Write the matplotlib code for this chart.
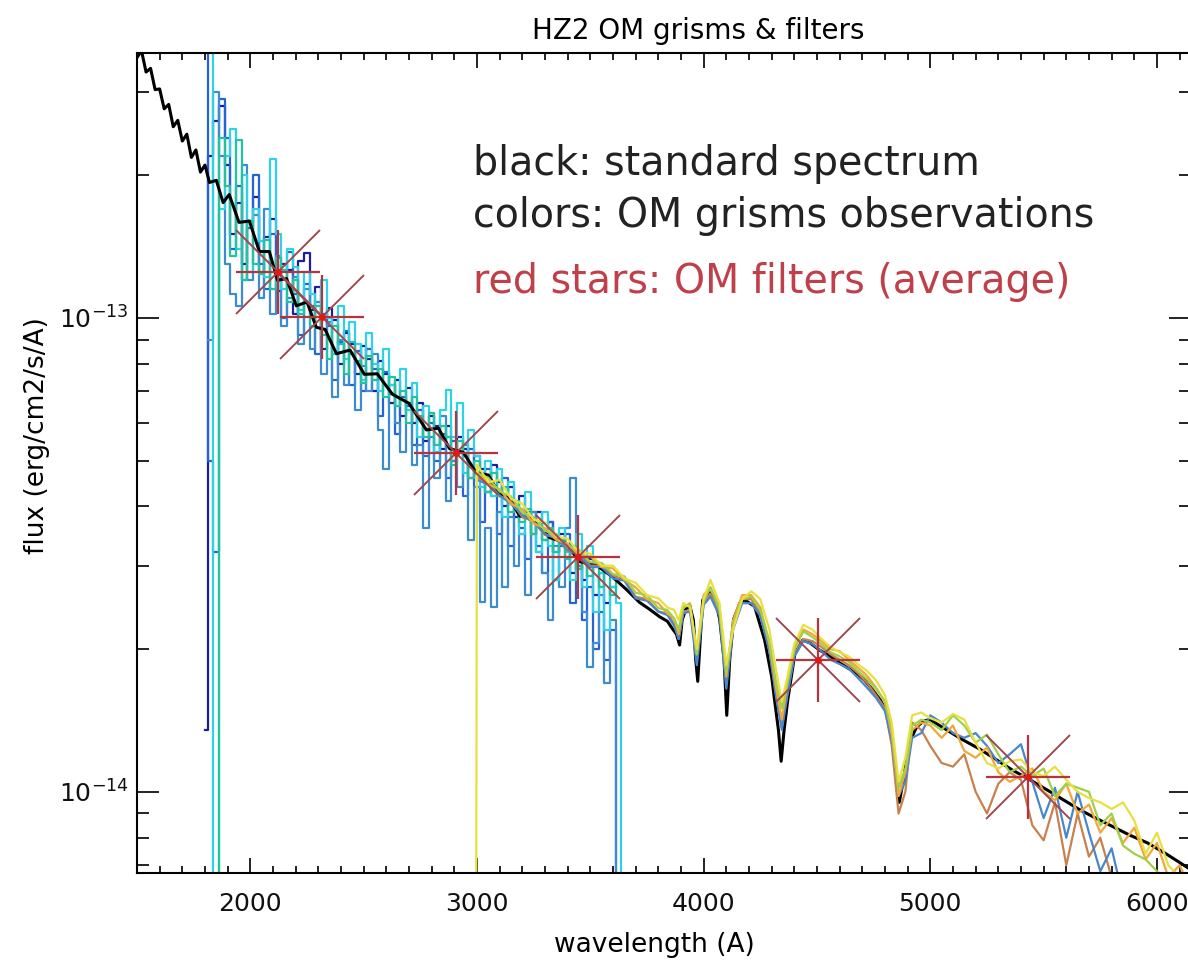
import numpy as np
import matplotlib.pyplot as plt
from matplotlib.ticker import LogLocator, MultipleLocator, NullFormatter

nan = np.nan
# all fluxes below are in units of 1e-14 erg/cm2/s/A
UNIT = 1e-14

# standard spectrum (black)
std_wave = [1500, 1520, 1540, 1560, 1580, 1600, 1620, 1640, 1660, 1680,
            1700, 1720, 1740, 1760, 1780, 1800, 1820, 1850, 1880, 1907,
            1950, 1996, 2040, 2084, 2120, 2160, 2203, 2250, 2291, 2330,
            2380, 2440, 2503, 2560, 2627, 2700, 2777, 2830, 2879, 2940,
            2998, 3050, 3099, 3140, 3188, 3250, 3320, 3390, 3453, 3530,
            3598, 3660, 3717, 3760, 3806, 3840, 3859, 3880, 3894, 3905,
            3920, 3938, 3955, 3965, 3974, 3985, 3996, 4027, 4055, 4071,
            4090, 4102, 4115, 4132, 4160, 4181, 4225, 4269, 4300, 4313,
            4330, 4342, 4355, 4371, 4402, 4437, 4470, 4512, 4560, 4600,
            4640, 4675, 4710, 4746, 4780, 4808, 4830, 4843, 4855, 4863,
            4875, 4887, 4910, 4940, 4970, 4998, 5030, 5073, 5140, 5219,
            5290, 5364, 5440, 5514, 5590, 5660, 5730, 5806, 5880, 5956,
            6040, 6137]
std_flux = [35.4, 36.6, 33.0, 33.6, 30.3, 30.4, 27.6, 28.2, 25.3, 26.1,
            23.6, 24.4, 21.8, 22.6, 20.3, 21.0, 19.3, 19.5, 17.5, 18.2,
            15.9, 16.0, 13.8, 13.8, 12.0, 12.1, 10.6, 10.8, 9.55, 9.45,
            8.4, 8.55, 7.6, 7.62, 6.9, 6.6, 5.8, 5.85, 5.3, 5.2,
            4.7, 4.66, 4.25, 4.2, 3.82, 3.76, 3.44, 3.35, 3.06, 3.0,
            2.84, 2.67, 2.51, 2.43, 2.34, 2.29, 2.22, 2.15, 2.04, 2.30,
            2.42, 2.48, 2.30, 1.90, 1.71, 2.10, 2.54, 2.63, 2.50, 2.31,
            1.90, 1.45, 1.90, 2.31, 2.50, 2.54, 2.46, 2.09, 1.75, 1.56,
            1.35, 1.16, 1.35, 1.56, 1.95, 2.09, 2.06, 1.99, 1.93, 1.87,
            1.82, 1.78, 1.72, 1.64, 1.56, 1.47, 1.32, 1.17, 1.00, 0.95,
            1.02, 1.10, 1.28, 1.37, 1.41, 1.42, 1.39, 1.35, 1.29, 1.23,
            1.17, 1.11, 1.06, 1.01, 0.96, 0.916, 0.88, 0.844, 0.81, 0.781,
            0.74, 0.691]

# UV grism observations
uv_wave = [1800, 1825, 1850, 1875, 1900, 1925, 1950, 1975, 2000, 2025,
           2050, 2075, 2100, 2125, 2150, 2175, 2200, 2225, 2250, 2275,
           2300, 2325, 2350, 2375, 2400, 2425, 2450, 2475, 2500, 2525,
           2550, 2575, 2600, 2625, 2650, 2675, 2700, 2725, 2750, 2775,
           2800, 2825, 2850, 2875, 2900, 2925, 2950, 2975, 3000, 3025,
           3050, 3075, 3100, 3125, 3150, 3175, 3200, 3225, 3250, 3275,
           3300, 3325, 3350, 3375, 3400, 3425, 3450, 3475, 3500, 3525,
           3550, 3575, 3600, 3625, 3650]
uv_navy = [1.35, 22, 26, 28, 21, 15, 17.5, 13, 16, 18,
           12.5, 14.8, 16.2, 11.4, 13.0, 12.6, 10.2, 13.2, 13.7, 10.4,
           11.6, 8.6, 10.5, 9.9, 8.0, 9.3, 8.8, 7.6, 8.7, 8.2,
           7.0, 8.1, 7.6, 6.6, 7.4, 6.2, 7.1, 6.0, 6.6, 5.5,
           6.2, 5.9, 5.3, 5.9, 5.0, 5.6, 5.3, 4.6, 5.1, 4.8,
           4.3, 4.9, 4.5, 4.0, 4.4, 3.8, 4.2, 3.9, 3.5, 3.9,
           3.4, 3.7, 3.2, 3.5, 3.3, 2.9, 3.2, 2.8, 3.1, 2.6,
           2.9, 2.5, 2.7, nan, nan]
uv_blue = [40, 5.0, 3.2, 29, 24, 14, 19, 12, 15.5, 20,
           13, 11.5, 15, 12.5, 10, 13.8, 11.2, 9.2, 11.8, 10.6,
           8.4, 10.2, 9.6, 7.4, 8.9, 9.4, 7.2, 8.5, 7.0, 8.6,
           7.8, 6.2, 7.7, 6.9, 5.7, 6.8, 6.5, 5.4, 6.4, 5.1,
           6.0, 5.0, 5.7, 4.6, 5.5, 5.2, 4.2, 5.3, 4.4, 3.7,
           4.8, 4.2, 3.5, 4.6, 3.3, 4.0, 3.6, 3.1, 3.9, 3.3,
           2.9, 3.7, 2.8, 3.3, 3.5, 2.5, 3.0, 2.3, 2.7, 2.0,
           2.4, 1.9, 2.2, 0.01, nan]
uv_steel = [nan, 9.0, 30, 22, 13, 11.2, 10.6, 21, 12, 16.5,
            11.0, 17, 10.2, 13.5, 9.6, 11.0, 12.2, 8.8, 11.5, 8.6,
            10.8, 7.6, 9.8, 6.8, 9.0, 7.2, 8.4, 6.4, 7.9, 7.0,
            8.4, 5.8, 4.8, 7.2, 6.0, 5.2, 6.6, 4.9, 5.4, 3.6,
            5.6, 4.6, 6.2, 4.1, 5.0, 4.4, 5.4, 3.4, 4.4, 2.52,
            3.6, 2.45, 3.9, 2.7, 3.8, 3.0, 3.5, 2.6, 3.9, 3.2,
            2.9, 2.3, 3.3, 2.7, 3.6, 4.6, 3.0, 2.4, 1.83, 2.06,
            2.6, 1.7, 2.3, 0.01, nan]
uv_cyan = [40, 40, 0.01, 17, 22, 25, 14, 20, 12.5, 17,
           14.5, 12.2, 21.6, 15, 11.5, 14, 12.8, 10.4, 12.5, 11.2,
           9.5, 12.0, 10.0, 8.4, 10.6, 8.2, 9.8, 8.8, 7.4, 9.3,
           8.0, 7.0, 8.6, 7.2, 6.5, 7.8, 6.4, 7.3, 5.6, 6.5,
           6.3, 5.2, 6.4, 7.05, 5.6, 6.6, 4.7, 5.8, 5.1, 4.4,
           5.0, 4.2, 4.8, 3.8, 4.5, 4.1, 3.5, 4.3, 3.7, 3.2,
           3.9, 3.3, 2.8, 3.6, 3.2, 2.8, 3.5, 2.7, 3.3, 2.4,
           2.9, 2.2, 2.7, 2.5, 0.01]
uv_aqua = [nan, 0.01, 0.01, 24, 19, 13.5, 23.7, 12, 16, 13,
           12.4, 14.6, 11.5, 13.4, 12.6, 10.8, 12.0, 10.2, 10.8, 9.6,
           10.6, 9.2, 8.2, 9.6, 8.8, 7.6, 8.9, 8.1, 7.3, 8.3,
           7.4, 7.8, 6.8, 7.5, 6.5, 7.0, 6.0, 6.8, 6.2, 5.6,
           6.3, 5.4, 5.9, 5.6, 4.9, 5.5, 5.1, 4.6, 5.0, 4.7,
           4.3, 4.7, 4.2, 4.4, 3.9, 4.1, 3.7, 3.95, 3.5, 3.7,
           3.4, 3.6, 3.2, 3.4, 3.1, 3.3, 2.95, 3.1, 2.85, 3.0,
           2.7, 2.9, 2.6, 2.8, nan]

# visible grism observations
vis_wave = [2990, 3000, 3050, 3100, 3150, 3200, 3250, 3300, 3350, 3400,
            3450, 3500, 3550, 3600, 3650, 3700, 3750, 3800, 3840, 3870,
            3890, 3910, 3940, 3970, 4000, 4030, 4070, 4100, 4130, 4170,
            4210, 4250, 4290, 4320, 4345, 4370, 4400, 4440, 4480, 4520,
            4560, 4600, 4640, 4680, 4720, 4760, 4800, 4830, 4860, 4890,
            4920, 4960, 5000, 5050, 5100, 5150, 5200, 5250, 5300, 5350,
            5400, 5450, 5500, 5550, 5600, 5650, 5700, 5750, 5800, 5850,
            5900, 5950, 6000, 6050, 6100, 6150]
vis_yellow = [0.01, 4.9, 4.5, 4.55, 4.15, 4.05, 3.75, 3.7, 3.45, 3.42,
              3.2, 3.18, 3.0, 3.0, 2.82, 2.76, 2.6, 2.56, 2.45, 2.42,
              2.3, 2.5, 2.45, 2.0, 2.55, 2.8, 2.5, 1.85, 2.2, 2.55,
              2.65, 2.55, 2.2, 1.8, 1.55, 1.75, 2.05, 2.25, 2.2, 2.1,
              2.02, 1.97, 1.93, 1.86, 1.8, 1.72, 1.6, 1.4, 1.05, 1.18,
              1.45, 1.47, 1.43, 1.4, 1.46, 1.42, 1.27, 1.15, 1.12, 1.16,
              1.17, 1.1, 1.08, 1.13, 1.06, 1.0, 0.97, 0.95, 0.92, 0.95,
              0.87, 0.74, 0.82, 0.7, 0.66, 0.6]
vis_orange = [nan, 4.75, 4.45, 4.35, 4.05, 3.95, 3.68, 3.6, 3.4, 3.34,
              3.15, 3.14, 2.98, 2.96, 2.8, 2.7, 2.55, 2.5, 2.38, 2.32,
              2.15, 2.45, 2.5, 1.95, 2.6, 2.7, 2.45, 1.75, 2.3, 2.6,
              2.6, 2.45, 2.05, 1.65, 1.42, 1.7, 2.0, 2.2, 2.15, 2.08,
              2.0, 1.98, 1.9, 1.83, 1.76, 1.66, 1.55, 1.32, 0.98, 1.1,
              1.35, 1.4, 1.38, 1.3, 1.38, 1.22, 1.18, 1.24, 1.1, 1.05,
              1.08, 1.12, 1.0, 0.96, 1.04, 0.9, 0.94, 0.82, 0.88, 0.78,
              0.84, 0.72, 0.78, 0.66, 0.7, 0.62]
vis_brown = [nan, 4.6, 4.5, 4.2, 4.1, 3.8, 3.72, 3.48, 3.45, 3.22,
             3.18, 3.0, 3.0, 2.86, 2.8, 2.58, 2.55, 2.4, 2.38, 2.26,
             2.1, 2.4, 2.42, 1.9, 2.5, 2.62, 2.38, 1.7, 2.25, 2.55,
             2.55, 2.38, 2.0, 1.6, 1.38, 1.62, 1.95, 2.1, 2.08, 2.02,
             1.95, 1.9, 1.85, 1.78, 1.7, 1.6, 1.5, 1.25, 0.9, 1.0,
             1.4, 1.35, 1.25, 1.15, 1.13, 1.2, 1.0, 0.9, 1.04, 1.1,
             1.06, 0.85, 0.79, 0.95, 0.7, 0.9, 0.73, 0.8, 0.66, 0.55,
             0.6, 0.5, 0.56, 0.45, 0.5, 0.42]
vis_blue = [nan, 4.55, 4.45, 4.22, 4.05, 3.84, 3.7, 3.5, 3.42, 3.24,
            3.16, 2.98, 2.98, 2.82, 2.79, 2.56, 2.53, 2.4, 2.36, 2.24,
            2.1, 2.38, 2.4, 1.85, 2.48, 2.58, 2.35, 1.65, 2.2, 2.5,
            2.5, 2.35, 1.98, 1.58, 1.35, 1.6, 1.93, 2.08, 2.05, 1.98,
            1.9, 1.86, 1.82, 1.74, 1.66, 1.58, 1.48, 1.28, 0.98, 1.05,
            1.3, 1.33, 1.45, 1.4, 1.33, 1.3, 1.33, 1.25, 1.15, 1.2,
            1.26, 1.05, 0.88, 1.02, 0.8, 1.0, 0.82, 0.68, 0.76, 0.6,
            0.55, 0.5, 0.52, 0.45, 0.42, 0.4]
vis_green = [nan, 4.7, 4.6, 4.3, 4.2, 3.88, 3.8, 3.55, 3.5, 3.28,
             3.24, 3.05, 3.04, 2.88, 2.85, 2.63, 2.6, 2.44, 2.42, 2.32,
             2.2, 2.45, 2.48, 1.95, 2.52, 2.7, 2.42, 1.78, 2.25, 2.55,
             2.58, 2.42, 2.08, 1.7, 1.5, 1.7, 2.0, 2.18, 2.12, 2.05,
             1.97, 1.93, 1.88, 1.8, 1.73, 1.65, 1.55, 1.36, 1.02, 1.12,
             1.38, 1.42, 1.4, 1.35, 1.45, 1.38, 1.27, 1.32, 1.2, 1.1,
             1.13, 1.08, 1.12, 0.98, 1.04, 1.02, 1.0, 0.85, 0.9, 0.77,
             0.74, 0.72, 0.68, 0.64, 0.6, 0.58]

# OM filter averages (red stars)
filter_wave = [2120, 2318, 2909, 3444, 4503, 5430]
filter_flux = [12.5, 10.05, 5.19, 3.13, 1.90, 1.075]

uv_series = [(uv_navy, '#1c1c9c'), (uv_blue, '#2464d8'), (uv_steel, '#3c8cd0'),
             (uv_cyan, '#2ed2e6'), (uv_aqua, '#22c4a0')]
vis_series = [(vis_brown, '#c8804c'), (vis_blue, '#4a86cc'), (vis_orange, '#f0a838'),
              (vis_green, '#a0d048'), (vis_yellow, '#e8e040')]

fig = plt.figure(figsize=(11.88, 9.6), dpi=100)
ax = fig.add_axes([0.1153, 0.0906, 0.8872, 0.8542])

for flux, col in uv_series:
    ax.plot(uv_wave, np.array(flux) * UNIT, color=col, lw=1.6, drawstyle='steps-mid')
ax.plot(std_wave, np.array(std_flux) * UNIT, color='black', lw=2.2)
for flux, col in vis_series:
    ax.plot(vis_wave, np.array(flux) * UNIT, color=col, lw=1.6)

ff = np.array(filter_flux) * UNIT
ax.plot(filter_wave, ff, ls='none', marker='x', ms=60, mew=1.4, color='#a0484e')
ax.plot(filter_wave, ff, ls='none', marker='+', ms=60, mew=1.6, color='#b8343c')
ax.plot(filter_wave, ff, ls='none', marker='o', ms=4, color='#e01818')

ax.set_yscale('log')
ax.set_xlim(1500, 6150)
ax.set_ylim(6.74e-15, 3.62e-13)

ax.set_xticks([2000, 3000, 4000, 5000, 6000])
ax.xaxis.set_minor_locator(MultipleLocator(100))
ax.set_yticks([1e-14, 1e-13])
ax.yaxis.set_minor_locator(LogLocator(base=10, subs=np.arange(2, 10)))
ax.yaxis.set_minor_formatter(NullFormatter())

ax.tick_params(axis='both', which='both', direction='in', top=True, right=True,
               width=1.3, labelsize=18, colors='#111111')
ax.tick_params(axis='x', which='major', length=11, pad=14)
ax.tick_params(axis='x', which='minor', length=5)
ax.tick_params(axis='y', which='major', length=16, pad=6)
ax.tick_params(axis='y', which='minor', length=8.5)
for s in ax.spines.values():
    s.set_linewidth(1.5)

ax.set_xlabel('wavelength (A)', fontsize=19)
ax.xaxis.set_label_coords(0.4905, -0.072)
ax.set_ylabel('flux (erg/cm2/s/A)', fontsize=19)
ax.yaxis.set_label_coords(-0.0825, 0.534)
fig.text(0.588, 0.968, 'HZ2 OM grisms & filters', fontsize=20, ha='center', va='center')

fig.text(0.398, 0.8177, 'black: standard spectrum', fontsize=28.5, color='#222222', va='baseline')
fig.text(0.398, 0.7635, 'colors: OM grisms observations', fontsize=28.5, color='#222222', va='baseline')
fig.text(0.398, 0.695, 'red stars: OM filters (average)', fontsize=28.5, color='#c0404a', va='baseline')

fig.savefig('out.png', dpi=100)
